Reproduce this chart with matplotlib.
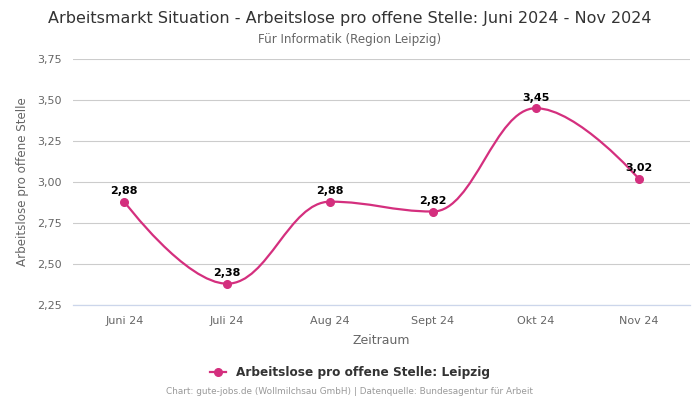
import numpy as np
import matplotlib.pyplot as plt
from matplotlib.path import Path
from matplotlib.patches import PathPatch
from matplotlib.lines import Line2D

months = ["Juni 24", "Juli 24", "Aug 24", "Sept 24", "Okt 24", "Nov 24"]
values = [2.88, 2.38, 2.88, 2.82, 3.45, 3.02]
labels = ["2,88", "2,38", "2,88", "2,82", "3,45", "3,02"]
yticks = [2.25, 2.50, 2.75, 3.00, 3.25, 3.50, 3.75]

color = "#d42f7e"


def spline_path(xs, ys, smoothing=1.5):
    # Highcharts-style spline built from bezier segments
    n = len(xs)
    left = [(xs[i], ys[i]) for i in range(n)]
    right = [(xs[i], ys[i]) for i in range(n)]
    d = smoothing + 1
    for i in range(1, n - 1):
        px, py = xs[i], ys[i]
        lx, ly = xs[i - 1], ys[i - 1]
        nx, ny = xs[i + 1], ys[i + 1]
        lcx = (smoothing * px + lx) / d
        lcy = (smoothing * py + ly) / d
        rcx = (smoothing * px + nx) / d
        rcy = (smoothing * py + ny) / d
        if rcx != lcx:
            corr = (rcy - lcy) * (rcx - px) / (rcx - lcx) + py - rcy
            lcy += corr
            rcy += corr
        if lcy > ly and lcy > py:
            lcy = max(ly, py)
            rcy = 2 * py - lcy
        elif lcy < ly and lcy < py:
            lcy = min(ly, py)
            rcy = 2 * py - lcy
        if rcy > ny and rcy > py:
            rcy = max(ny, py)
            lcy = 2 * py - rcy
        elif rcy < ny and rcy < py:
            rcy = min(ny, py)
            lcy = 2 * py - rcy
        left[i] = (lcx, lcy)
        right[i] = (rcx, rcy)
    verts = [(xs[0], ys[0])]
    codes = [Path.MOVETO]
    for i in range(1, n):
        verts += [right[i - 1], left[i], (xs[i], ys[i])]
        codes += [Path.CURVE4] * 3
    return Path(verts, codes)


fig = plt.figure(figsize=(7, 4), dpi=100)
ax = fig.add_axes([0.104, 0.2375, 0.882, 0.615])

x = np.arange(len(months))
ax.add_patch(PathPatch(spline_path(x, values), fill=False, edgecolor=color, lw=1.6, zorder=3))
ax.plot(x, values, "o", color=color, ms=5.5, zorder=4)
for xi, v, lab in zip(x, values, labels):
    ax.annotate(lab, (xi, v), xytext=(0, 4), textcoords="offset points",
                ha="center", va="bottom", fontsize=8, fontweight="bold", color="black")

ax.set_xlim(-0.5, len(months) - 0.5)
ax.set_ylim(2.25, 3.75)
ax.set_xticks(x)
ax.set_xticklabels(months)
ax.set_yticks(yticks)
ax.set_yticklabels([f"{t:.2f}".replace(".", ",") for t in yticks])
ax.tick_params(axis="both", length=0, labelsize=8, colors="#666666", pad=8)
ax.grid(axis="y", color="#cccccc", lw=0.8)
ax.set_axisbelow(True)
for s in ax.spines.values():
    s.set_visible(False)
ax.spines["bottom"].set_visible(True)
ax.spines["bottom"].set_color("#ccd6eb")
ax.spines["bottom"].set_linewidth(0.9)
ax.set_xlabel("Zeitraum", fontsize=9, color="#666666", labelpad=6)
ax.set_ylabel("Arbeitslose pro offene Stelle", fontsize=8.6, color="#666666", labelpad=6)

fig.text(0.5, 0.955, "Arbeitsmarkt Situation - Arbeitslose pro offene Stelle: Juni 2024 - Nov 2024",
         ha="center", va="center", fontsize=11.5, color="#333333")
fig.text(0.5, 0.902, "Für Informatik (Region Leipzig)", ha="center", va="center",
         fontsize=8.6, color="#666666")

handle = Line2D([], [], color=color, marker="o", ms=5.5, lw=1.6)
fig.legend([handle], ["Arbeitslose pro offene Stelle: Leipzig"], loc="center",
           bbox_to_anchor=(0.5, 0.068), frameon=False, handlelength=1.3,
           prop={"weight": "bold", "size": 8.7}, labelcolor="#333333")
fig.text(0.5, 0.02, "Chart: gute-jobs.de (Wollmilchsau GmbH) | Datenquelle: Bundesagentur für Arbeit",
         ha="center", va="center", fontsize=6.4, color="#999999")

fig.savefig("out.png", dpi=100)
